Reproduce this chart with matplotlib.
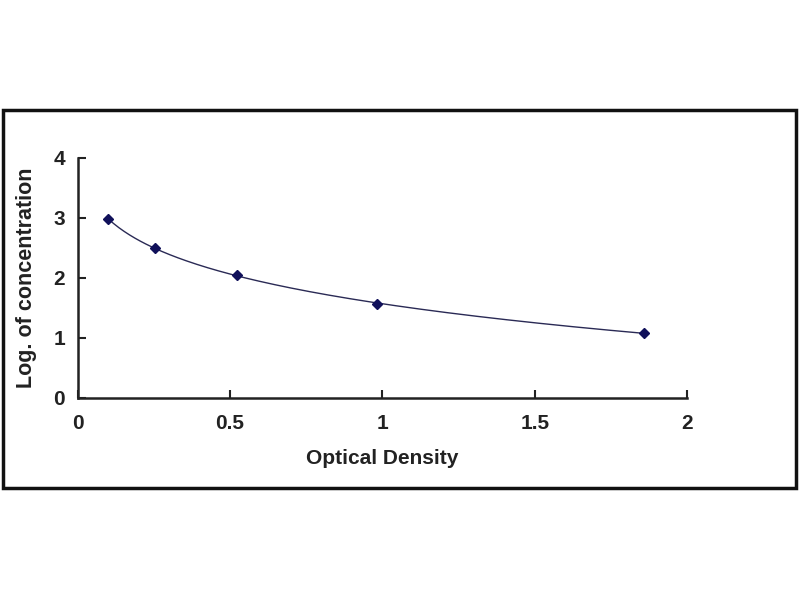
import numpy as np
import matplotlib
matplotlib.use('Agg')
import matplotlib.pyplot as plt
from matplotlib.patches import Rectangle

# standard curve points (optical density vs log concentration)
od = [0.10, 0.254, 0.522, 0.981, 1.857]
log_conc = [2.98, 2.50, 2.04, 1.56, 1.085]

x_ticks = [0, 0.5, 1, 1.5, 2]
x_tick_labels = ['0', '0.5', '1', '1.5', '2']
y_ticks = [0, 1, 2, 3, 4]

plt.rcParams['font.family'] = ['Liberation Sans', 'DejaVu Sans']

fig = plt.figure(figsize=(8, 6), dpi=100)
ax = fig.add_axes([0.097, 0.337, 0.762, 0.400])

# trend curve fitted on log(x), like a spreadsheet trendline
coef = np.polyfit(np.log(od), log_conc, 2)
xs = np.linspace(min(od), max(od), 200)
ax.plot(xs, np.polyval(coef, np.log(xs)), color='#2a2a55', lw=1.0)
ax.plot(od, log_conc, linestyle='none', marker='D', markersize=5,
        color='#10105a')

ax.set_xlim(0, 2)
ax.set_ylim(0, 4)
ax.set_xticks(x_ticks)
ax.set_xticklabels(x_tick_labels)
ax.set_yticks(y_ticks)
ax.spines['top'].set_visible(False)
ax.spines['right'].set_visible(False)
for s in ['left', 'bottom']:
    ax.spines[s].set_linewidth(1.8)
    ax.spines[s].set_color('#222222')
ax.tick_params(direction='in', length=6, width=1.5, labelsize=15,
               colors='#222222')
ax.tick_params(axis='x', pad=12)
ax.tick_params(axis='y', pad=9)
for lbl in ax.get_xticklabels() + ax.get_yticklabels():
    lbl.set_fontweight('bold')

ax.set_xlabel('Optical Density', fontsize=15, fontweight='bold',
              color='#222222', labelpad=11)
ax.set_ylabel('Log. of concentration', fontsize=15.5, fontweight='bold',
              color='#222222', labelpad=12)

# outer frame around the chart
fig.patches.append(Rectangle((0.004, 0.187), 0.991, 0.630,
                             transform=fig.transFigure, fill=False,
                             lw=2.5, edgecolor='#111111'))

plt.savefig('out.png', dpi=100)
